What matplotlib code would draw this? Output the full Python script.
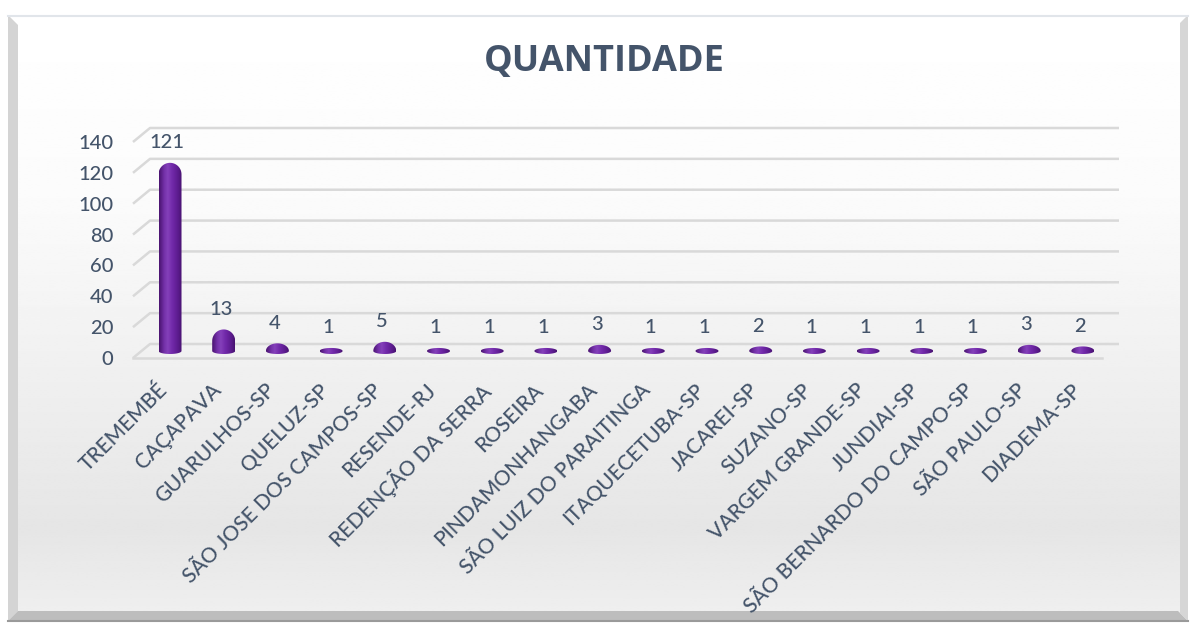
import numpy as np
import matplotlib
matplotlib.use("Agg")
import matplotlib.pyplot as plt
from matplotlib.path import Path
from matplotlib.patches import PathPatch, Polygon
from matplotlib.colors import LinearSegmentedColormap

plt.rcParams['font.family'] = ['Lato', 'DejaVu Sans']

categories = ["TREMEMBÉ", "CAÇAPAVA", "GUARULHOS-SP", "QUELUZ-SP", "SÃO JOSE DOS CAMPOS-SP",
              "RESENDE-RJ", "REDENÇÃO DA SERRA", "ROSEIRA", "PINDAMONHANGABA",
              "SÃO LUIZ DO PARAITINGA", "ITAQUECETUBA-SP", "JACAREI-SP", "SUZANO-SP",
              "VARGEM GRANDE-SP", "JUNDIAI-SP", "SÃO BERNARDO DO CAMPO-SP", "SÃO PAULO-SP",
              "DIADEMA-SP"]
quantidade = [121, 13, 4, 1, 5, 1, 1, 1, 3, 1, 1, 2, 1, 1, 1, 1, 3, 2]
yticks = [0, 20, 40, 60, 80, 100, 120, 140]
title = "QUANTIDADE"

W, H = 1190, 625
TXT = '#44546A'
GRID = '#d9d9d9'

fig = plt.figure(figsize=(W / 100, H / 100), dpi=100)

# background frame (pixel coordinates)
bg = fig.add_axes([0, 0, 1, 1], zorder=-5)
bg.set_xlim(0, W)
bg.set_ylim(H, 0)
bg.axis('off')
grad = np.interp(np.linspace(0, 1, 300), [0, 0.3, 0.85, 1.0], [1.0, 0.985, 0.90, 0.94])
bg.imshow(np.tile(grad[:, None], (1, 2)), cmap='gray', vmin=0, vmax=1, aspect='auto',
          extent=(8, 1188, 621, 15), interpolation='bilinear')
bg.add_patch(Polygon([(8, 15), (18, 25), (18, 611), (8, 621)], closed=True,
                     facecolor='#d4d4d4', edgecolor='none'))
bg.add_patch(Polygon([(8, 621), (18, 611), (1178, 611), (1188, 621)], closed=True,
                     facecolor='#bdbdbd', edgecolor='none'))
bg.add_patch(Polygon([(1188, 15), (1180, 23), (1180, 613), (1188, 621)], closed=True,
                     facecolor='#d6d6d6', edgecolor='none'))
bg.plot([8, 1188], [15.5, 15.5], color='#e1e5ea', lw=1.5)
bg.plot([8, 1188], [620.5, 620.5], color='#9a9a9a', lw=1.5)
bg.text(604, 62, title, ha='center', va='center', fontsize=26, fontweight='bold', color=TXT,
        family=['Open Sans', 'DejaVu Sans'])

# plot area: front plane
left_px, right_px, top_px, bot_px = 133, 1102, 142, 358
ax = fig.add_axes([left_px / W, 1 - bot_px / H, (right_px - left_px) / W, (bot_px - top_px) / H])
ax.patch.set_alpha(0)
for s in ax.spines.values():
    s.set_visible(False)

n = len(categories)
spacing = 53.7
xmin = -(161.5 - left_px) / spacing
xmax = xmin + (right_px - left_px) / spacing
ax.set_xlim(xmin, xmax)
ax.set_ylim(0, 140)
xpp = (xmax - xmin) / (right_px - left_px)   # data per pixel
ypp = 140 / (bot_px - top_px)
depth_x, depth_y = 17 * xpp, 14 * ypp

# gridlines with perspective wall
for v in yticks:
    ax.plot([xmin, xmin + depth_x, xmax + depth_x], [v, v + depth_y, v + depth_y],
            color=GRID, lw=1.8, clip_on=False, zorder=1, solid_capstyle='butt')
ax.plot([xmin, xmax], [0, 0], color=GRID, lw=1.8, clip_on=False, zorder=1)

ax.set_yticks(yticks)
ax.set_yticklabels([str(v) for v in yticks], fontsize=14.5, color=TXT, fontweight='medium')
ax.tick_params(axis='y', length=0, pad=14)
ax.set_xticks([])

cmap = LinearSegmentedColormap.from_list('cyl', [
    (0.0, '#4a1370'), (0.22, '#7330a8'), (0.38, '#8440ba'), (0.6, '#7028a8'),
    (0.85, '#5a1b8c'), (1.0, '#481270')])
gradimg = np.linspace(0, 1, 64)[None, :]

bw = 23 * xpp
for i, v in enumerate(quantidade):
    cx = i + depth_x / 2
    base = depth_y / 2
    y0 = base - 3 * ypp
    y1 = base + v + 1.5 * ypp
    tot_px = (y1 - y0) / ypp
    rb = 3 * ypp
    rt = min(11.5, max(3, tot_px - 3)) * ypp
    rx = bw / 2
    t1 = np.linspace(np.pi, 2 * np.pi, 30)
    t2 = np.linspace(0, np.pi, 30)
    xs = np.concatenate([cx + rx * np.cos(t1), cx + rx * np.cos(t2)])
    ys = np.concatenate([y0 + rb + rb * np.sin(t1), y1 - rt + rt * np.sin(t2)])
    verts = np.column_stack([xs, ys])
    verts = np.vstack([verts, verts[:1]])
    codes = [Path.MOVETO] + [Path.LINETO] * (len(verts) - 2) + [Path.CLOSEPOLY]
    patch = PathPatch(Path(verts, codes), facecolor='none', edgecolor='none')
    ax.add_patch(patch)
    im = ax.imshow(gradimg, cmap=cmap, aspect='auto', extent=(cx - rx, cx + rx, y0, y1),
                   interpolation='bilinear', zorder=3)
    im.set_clip_path(patch)
    ax.text(cx - 3 * xpp, y1 + 20 * ypp, str(v), ha='center', va='center', fontsize=14.5,
            color=TXT, clip_on=False, zorder=4, fontweight='medium')
    ax.text(i - 4 * xpp, -22 * ypp, categories[i], ha='right', va='top', rotation=45,
            rotation_mode='anchor', fontsize=15, color=TXT, clip_on=False, fontweight='medium')

ax.set_xlim(xmin, xmax)
ax.set_ylim(0, 140)

fig.savefig('out.png', dpi=100)
